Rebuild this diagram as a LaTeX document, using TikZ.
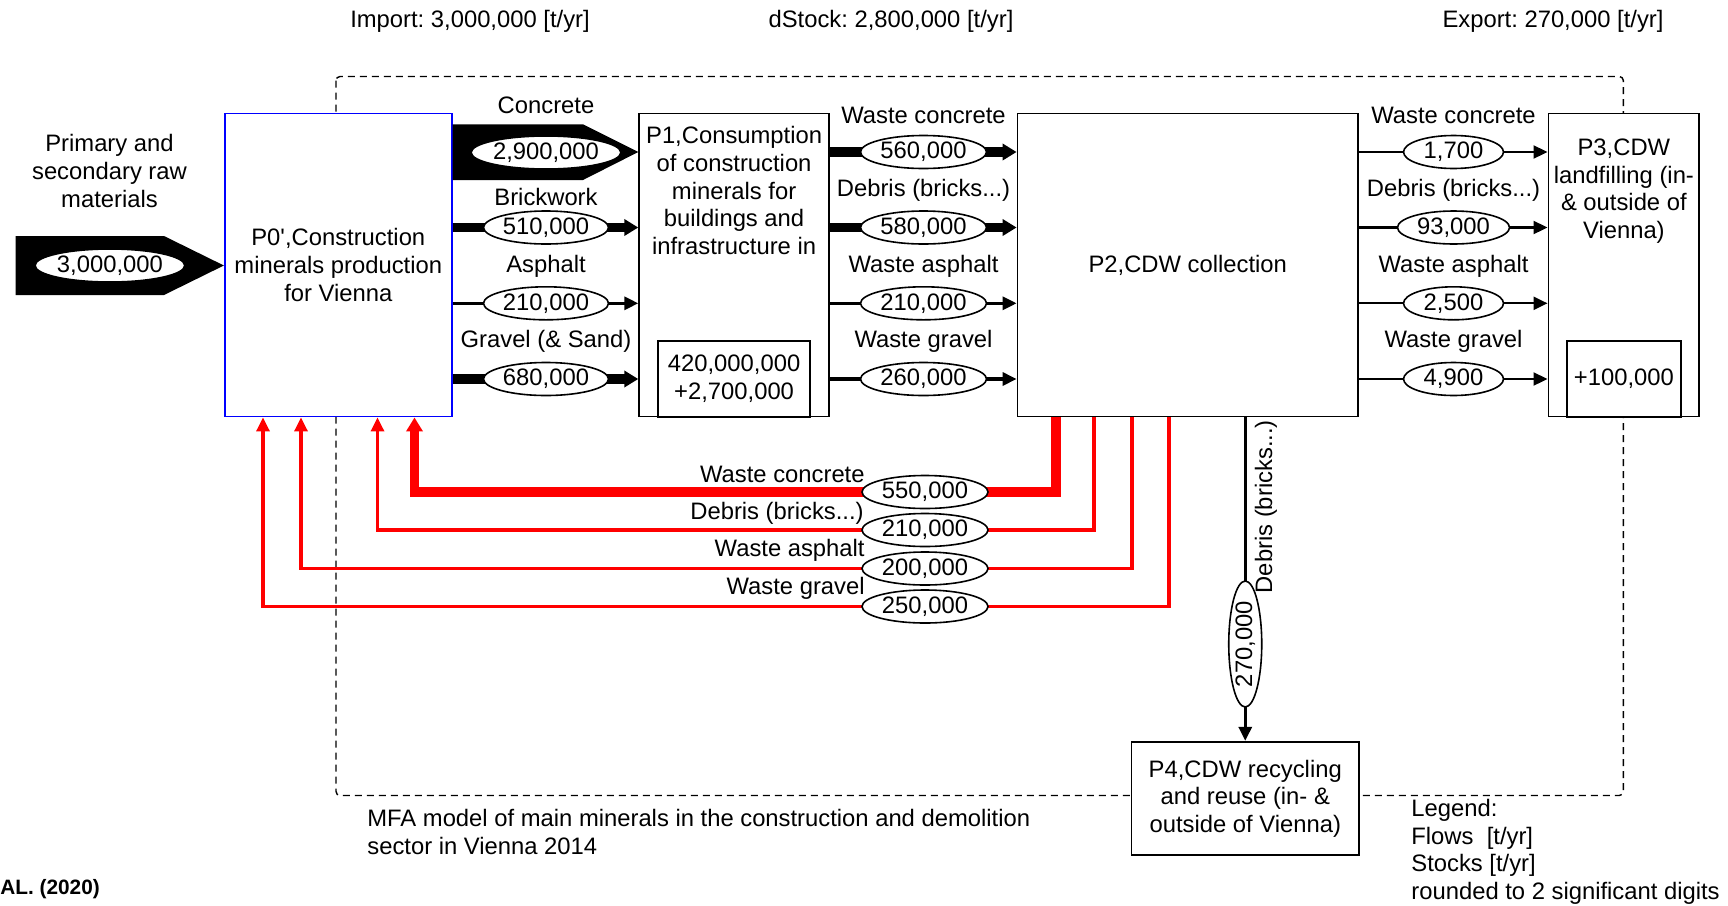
\documentclass[tikz,border=0pt]{standalone}
\usepackage{fontspec}
\setmainfont{Liberation Sans}
\usetikzlibrary{shapes.geometric,arrows.meta}
\newcommand\mainfs{\fontsize{11.9pt}{13.8pt}\selectfont\frenchspacing}
\begin{document}
\begin{tikzpicture}[x=0.5pt,y=-0.5pt,
  every node/.style={font=\mainfs, inner sep=0pt},
  box/.style={draw, line width=0.9pt, fill=white, inner sep=0pt},
  val/.style={ellipse, draw, line width=0.8pt, fill=white, inner sep=0pt,
    minimum height=16.5pt, minimum width=#1},
  tipthin/.style={-{Triangle[length=7pt,width=6.5pt]}},
  tipthick/.style={-{Triangle[length=7pt,width=8pt]}},
  flowthin/.style={tipthin, line width=1.6pt},
  flowfine/.style={tipthin, line width=1.1pt},
  flowthick/.style={tipthick, line width=4.8pt},
  redthin/.style={tipthin, draw=red, line width=1.6pt},
  redthick/.style={tipthick, draw=red, line width=4.6pt},
  boundary/.style={draw, line width=0.7pt, dash pattern=on 3.5pt off 2.5pt, rounded corners=2pt}
]
\fill[white] (0,0) rectangle (1728,905);
\useasboundingbox (0,0) rectangle (1728,905);

% system boundary
\draw[boundary] (336,76.5) rectangle (1623.3,795.5);

% row coordinates
\coordinate (r1) at (0,152);
\coordinate (r2) at (0,227.5);
\coordinate (r3) at (0,303.3);
\coordinate (r4) at (0,379);
\coordinate (d1) at (0,492);
\coordinate (d2) at (0,530);
\coordinate (d3) at (0,568.5);
\coordinate (d4) at (0,606.5);
\coordinate (a1) at (1056,0);
\coordinate (a2) at (1094,0);
\coordinate (a3) at (1132,0);
\coordinate (a4) at (1169,0);
\coordinate (b1) at (414.5,0);
\coordinate (b2) at (377.5,0);
\coordinate (b3) at (301,0);
\coordinate (b4) at (263,0);

% processes
\node[box, draw=blue, minimum width=113.5pt, minimum height=151.5pt, align=center]
  (P0) at (338.3,265.05) {P0\textquotesingle,Construction\\minerals production\\for Vienna};
\node[box, minimum width=94.9pt, minimum height=151.5pt] (P1) at (734.1,265.05) {};
\node[box, minimum width=76pt, minimum height=37.65pt, align=center]
  (P1s) at (734.1,379) {420,000,000\\+2,700,000};
\node[align=center] (P1t) at (734.1,190.5)
  {P1,Consumption\\of construction\\minerals for\\buildings and\\infrastructure in};
\node[box, minimum width=170.25pt, minimum height=151.5pt] (P2) at (1187.75,265.05) {P2,CDW collection};
\node[box, minimum width=75.45pt, minimum height=151.5pt] (P3) at (1623.85,265.05) {};
\node[box, minimum width=56.85pt, minimum height=37.65pt] (P3s) at (1623.85,379) {+100,000};
\node[align=center] (P3t) at (1623.85,191) {P3,CDW\\landfilling (in-\\\& outside of\\Vienna)};
\node[box, minimum width=113.75pt, minimum height=56.75pt, align=center]
  (P4) at (1245.25,798.45) {P4,CDW recycling\\and reuse (in- \&\\outside of Vienna)};

% import flow
\fill (15.6,236) -- (164,236) -- (P0.west |- 0,265.5) -- (164,295) -- (15.6,295) -- cycle;
\node[val=72pt] (vin) at (109.9,265.5) {3,000,000};
\node[align=center] (raw) at (109.5,171) {Primary and\\secondary raw\\materials};

% P0 -> P1
\fill (P0.east |- 0,124.3) -- (583,124.3) -- (P1.west |- r1) -- (583,180) -- (P0.east |- 0,180) -- cycle;
\draw[tipthick, line width=4.2pt] (P0.east |- r2) -- (P1.west |- r2);
\draw[flowthin] (P0.east |- r3) -- (P1.west |- r3);
\draw[tipthick, line width=5.4pt] (P0.east |- r4) -- (P1.west |- r4);
\node[val=72.5pt] (v01) at (546,152.5) {2,900,000};
\node[val=62.5pt] (v02) at (546,227.5) {510,000};
\node[val=62.5pt] (v03) at (546,303.3) {210,000};
\node[val=62.5pt] (v04) at (546,379) {680,000};
\node (l01) at (546,105) {Concrete};
\node (l02) at (546,196.7) {Brickwork};
\node (l03) at (546,266.7) {Asphalt};
\node (l04) at (546,341.7) {Gravel (\& Sand)};

% P1 -> P2
\draw[flowthick] (P1.east |- r1) -- (P2.west |- r1);
\draw[flowthick] (P1.east |- r2) -- (P2.west |- r2);
\draw[flowthin] (P1.east |- r3) -- (P2.west |- r3);
\draw[flowthin] (P1.east |- r4) -- (P2.west |- r4);
\node[val=63pt] (v11) at (923.5,152) {560,000};
\node[val=63pt] (v12) at (923.5,227.5) {580,000};
\node[val=63pt] (v13) at (923.5,303.3) {210,000};
\node[val=63pt] (v14) at (923.5,379) {260,000};
\node (l11) at (923.5,115) {Waste concrete};
\node (l12) at (923.5,190) {Debris (bricks...)};
\node (l13) at (923.5,266) {Waste asphalt};
\node (l14) at (923.5,341.7) {Waste gravel};

% P2 -> P3
\draw[flowfine] (P2.east |- r1) -- (P3.west |- r1);
\draw[flowfine] (P2.east |- r2) -- (P3.west |- r2);
\draw[flowfine] (P2.east |- r3) -- (P3.west |- r3);
\draw[flowfine] (P2.east |- r4) -- (P3.west |- r4);
\node[val=50pt] (v21) at (1453.5,152) {1,700};
\node[val=56pt] (v22) at (1453.5,227.5) {93,000};
\node[val=50pt] (v23) at (1453.5,303.3) {2,500};
\node[val=50pt] (v24) at (1453.5,379) {4,900};
\node (l21) at (1453.5,115) {Waste concrete};
\node (l22) at (1453.5,190) {Debris (bricks...)};
\node (l23) at (1453.5,266) {Waste asphalt};
\node (l24) at (1453.5,341.7) {Waste gravel};

% P2 -> P0 (recycled, red)
\draw[redthick] (P2.south -| a1) -- (a1 |- d1) -- (b1 |- d1) -- (P0.south -| b1);
\draw[redthin] (P2.south -| a2) -- (a2 |- d2) -- (b2 |- d2) -- (P0.south -| b2);
\draw[redthin] (P2.south -| a3) -- (a3 |- d3) -- (b3 |- d3) -- (P0.south -| b3);
\draw[redthin] (P2.south -| a4) -- (a4 |- d4) -- (b4 |- d4) -- (P0.south -| b4);
\node[val=63pt] (v31) at (925,492) {550,000};
\node[val=63pt] (v32) at (925,530) {210,000};
\node[val=63pt] (v33) at (925,568.5) {200,000};
\node[val=63pt] (v34) at (925,606.5) {250,000};
\node[anchor=east] (l31) at (865,474) {Waste concrete};
\node[anchor=east] (l32) at (864,513) {Debris (bricks...)};
\node[anchor=east] (l33) at (865,550) {Waste asphalt};
\node[anchor=east] (l34) at (865,588.3) {Waste gravel};

% P2 -> P4
\draw[flowthin] (P2.south -| P4.north) -- (P4.north);
\node[val=63pt, rotate=90] (v41) at (1245.25,644) {270,000};
\node[rotate=90] (l41) at (1266,506.7) {Debris (bricks...)};

% headers and notes
\node (imp) at (470,21) {Import: 3,000,000 [t/yr]};
\node (dst) at (891,21) {dStock: 2,800,000 [t/yr]};
\node (exp) at (1553,21) {Export: 270,000 [t/yr]};
\node[anchor=west, align=left] (mfa) at (367,832)
  {MFA model of main minerals in the construction and demolition\\sector in Vienna 2014};
\node[anchor=west, align=left] (leg) at (1411,852)
  {Legend:\\Flows\ \ [t/yr]\\Stocks [t/yr]\\rounded to 2 significant digits};
\node[anchor=west, font=\fontsize{10.4pt}{12pt}\selectfont\bfseries] (src) at (0,889) {AL. (2020)};
\end{tikzpicture}
\end{document}
